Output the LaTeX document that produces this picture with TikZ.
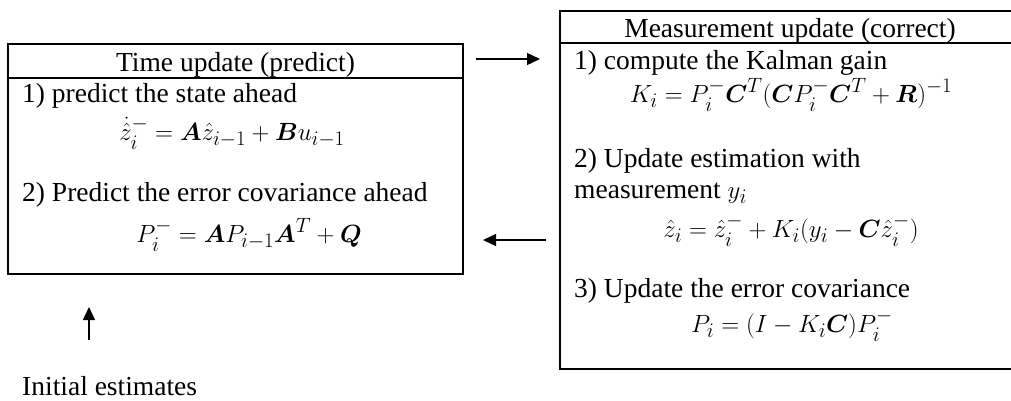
\documentclass[tikz,border=0pt]{standalone}
\usepackage{amsmath,bm}
\usepackage{fontspec}
\setmainfont{Liberation Serif}
\usetikzlibrary{arrows.meta}
\newcommand{\fsz}{\fontsize{27.5}{33}\selectfont}
\begin{document}
\begin{tikzpicture}[x=1pt,y=-1pt,
  box/.style={draw, line width=2pt, rectangle, inner sep=0pt, outer sep=0pt},
  txt/.style={anchor=base west, inner sep=0pt, font=\fsz},
  eq/.style={anchor=base, inner sep=0pt, font=\fsz},
  hdr/.style={anchor=base, inner sep=0pt, font=\fsz},
  arr/.style={line width=1.3pt, -{Triangle[length=13pt,width=12pt]}},
  sepline/.style={line width=2pt}]
\path[use as bounding box] (0,0) rectangle (1011,400);
\clip (0,0) rectangle (1011,400);
% boxes
\node[box, minimum width=455pt, minimum height=230pt] (tbox) at (235.5,159) {};
\node[box, minimum width=500pt, minimum height=358pt] (mbox) at (810,190) {};
\coordinate (tsep) at (0,78);
\coordinate (msep) at (0,43);
\draw[sepline] (tbox.west |- tsep) -- (tbox.east |- tsep);
\draw[sepline] (mbox.west |- msep) -- (mbox.east |- msep);
% left box text
\node[hdr] (thdr) at (235.5,71) {Time update (predict)};
\node[txt] (l1) at (22,102) {1) predict the state ahead};
\node[eq] (f1) at (232,140) {$\dot{\hat{z}}_i^{-} = \bm{A}\hat{z}_{i-1} + \bm{B}u_{i-1}$};
\node[txt] (l2) at (22,201) {2) Predict the error covariance ahead};
\node[eq] (f2) at (249,242) {$P_i^{-} = \bm{A}P_{i-1}\bm{A}^T + \bm{Q}$};
% right box text
\node[hdr] (mhdr) at (790,37) {Measurement update (correct)};
\node[txt] (r1) at (574,69) {1) compute the Kalman gain};
\node[eq] (fk) at (791,102) {$K_i = P_i^{-}\bm{C}^T(\bm{C}P_i^{-}\bm{C}^T + \bm{R})^{-1}$};
\node[txt] (r2a) at (574,167) {2) Update estimation with};
\node[txt] (r2b) at (574,198) {measurement $y_i$};
\node[eq] (fz) at (791,237) {$\hat{z}_i = \hat{z}_i^{-} + K_i(y_i - \bm{C}\hat{z}_i^{-})$};
\node[txt] (r3) at (574,297) {3) Update the error covariance};
\node[eq] (fp) at (792,332) {$P_i = (I - K_i\bm{C})P_i^{-}$};
% initial
\node[txt] (init) at (22,395) {Initial estimates};
% arrows
\coordinate (a1s) at (476,59);
\coordinate (a1e) at (540,59);
\coordinate (a2s) at (546,240);
\coordinate (a2e) at (483,240);
\coordinate (a3s) at (89,340);
\coordinate (a3e) at (89,307);
\draw[arr] (a1s) -- (a1e);
\draw[arr] (a2s) -- (a2e);
\draw[arr] (a3s) -- (a3e);
\end{tikzpicture}
\end{document}
